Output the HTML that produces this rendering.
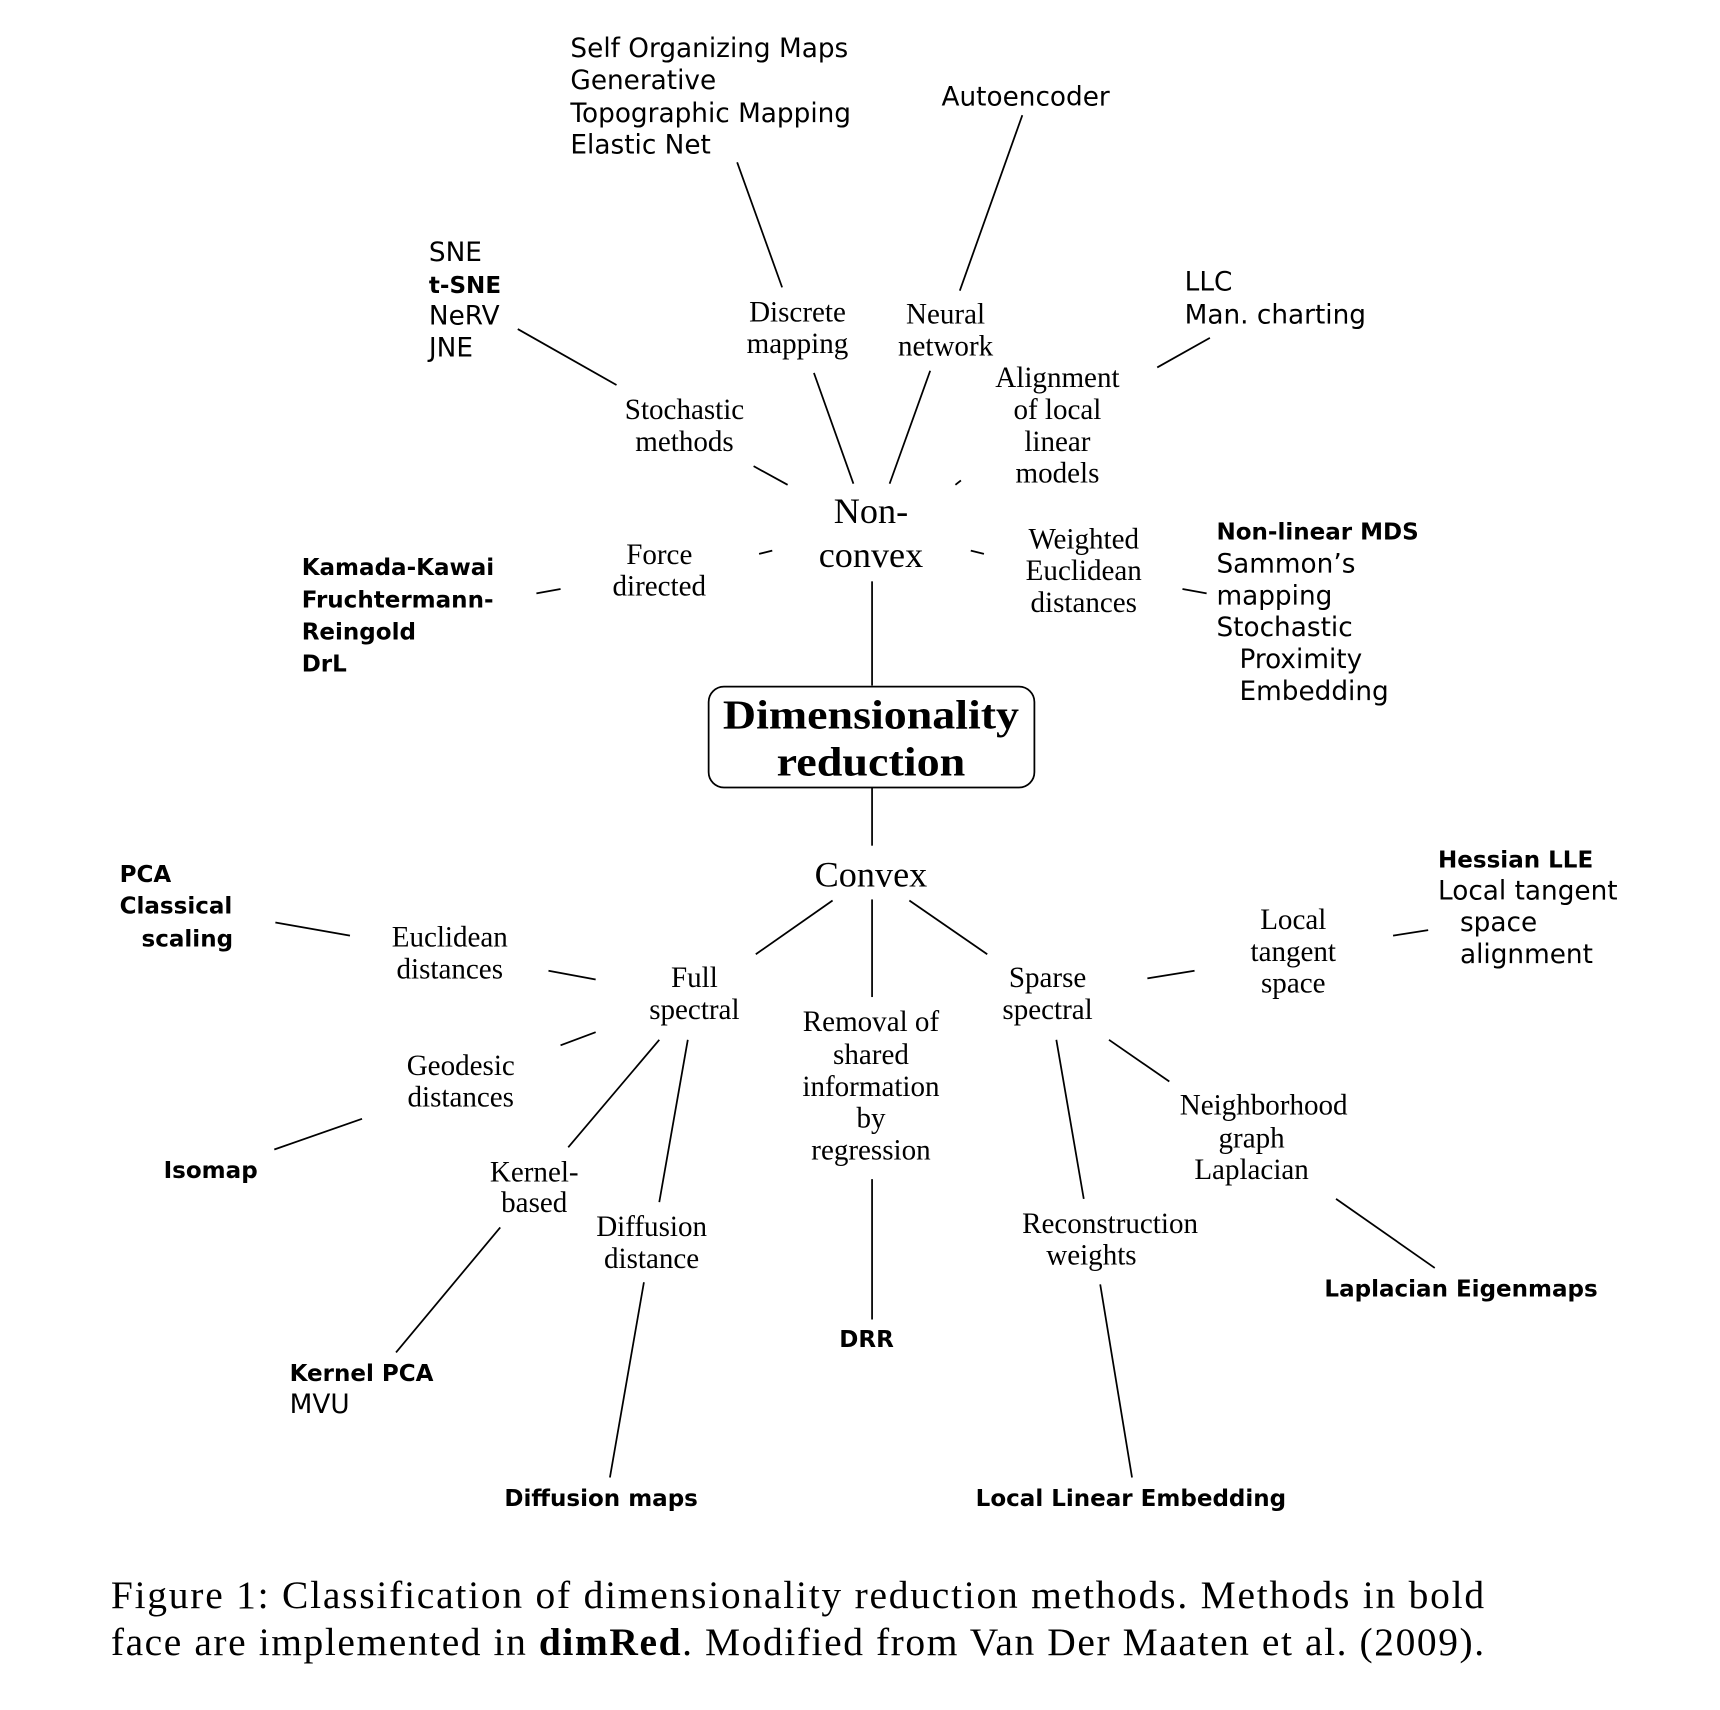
<!DOCTYPE html>
<html><head><meta charset="utf-8"><style>
html,body{margin:0;padding:0;background:#fff;}
svg{display:block;}
.s{font-family:"DejaVu Sans","Liberation Sans",sans-serif;font-size:24px;fill:#000;}
.b{font-weight:bold;font-size:21px;}
.r{font-family:"Liberation Serif",serif;font-size:26.5px;fill:#000;}
.m{text-anchor:middle;}
line{stroke:#000;stroke-width:1.6;}
</style></head><body>
<svg width="1720" height="1710" viewBox="0 0 1568 1559" xmlns="http://www.w3.org/2000/svg">
<g>
<line x1="672" y1="148" x2="713" y2="262"/>
<line x1="932" y1="105" x2="875" y2="265"/>
<line x1="472" y1="300" x2="562" y2="351"/>
<line x1="1103" y1="308" x2="1055" y2="335"/>
<line x1="742" y1="340" x2="778" y2="441"/>
<line x1="848" y1="338" x2="811" y2="441"/>
<line x1="687" y1="425" x2="718" y2="442"/>
<line x1="876" y1="438" x2="871" y2="442"/>
<line x1="692" y1="505" x2="704" y2="502"/>
<line x1="885" y1="502" x2="897" y2="505"/>
<line x1="489" y1="541" x2="511" y2="537"/>
<line x1="1078" y1="537" x2="1100" y2="541"/>
<line x1="795" y1="530" x2="795" y2="625"/>
<line x1="795" y1="718" x2="795" y2="771"/>
<line x1="759" y1="821" x2="689" y2="870"/>
<line x1="795" y1="820" x2="795" y2="909"/>
<line x1="829" y1="821" x2="900" y2="870"/>
<line x1="251" y1="841" x2="319" y2="853"/>
<line x1="500" y1="885" x2="543" y2="893"/>
<line x1="1046" y1="892" x2="1089" y2="885"/>
<line x1="1270" y1="853" x2="1302" y2="848"/>
<line x1="511" y1="953" x2="543" y2="941"/>
<line x1="250" y1="1048" x2="330" y2="1020"/>
<line x1="601" y1="948" x2="518" y2="1046"/>
<line x1="627" y1="948" x2="601" y2="1096"/>
<line x1="963" y1="948" x2="988" y2="1093"/>
<line x1="1011" y1="948" x2="1066" y2="986"/>
<line x1="456" y1="1119" x2="361" y2="1233"/>
<line x1="587" y1="1169" x2="556" y2="1347"/>
<line x1="795" y1="1075" x2="795" y2="1203"/>
<line x1="1003" y1="1171" x2="1032" y2="1347"/>
<line x1="1218" y1="1093" x2="1308" y2="1156"/>
</g>
<rect x="646" y="626" width="297" height="92" rx="14" fill="#fff" stroke="#000" stroke-width="1.6"/>
<text class="r m" font-weight="bold" x="794" y="664" style="font-size:38px" textLength="270" lengthAdjust="spacingAndGlyphs">Dimensionality</text>
<text class="r m" font-weight="bold" x="794" y="707" style="font-size:38px" textLength="172" lengthAdjust="spacingAndGlyphs">reduction</text>

<text class="s" x="520" y="52">Self Organizing Maps</text>
<text class="s" x="520" y="81">Generative</text>
<text class="s" x="520" y="111">Topographic Mapping</text>
<text class="s" x="520" y="140">Elastic Net</text>
<text class="s m" x="935" y="96">Autoencoder</text>
<text class="s" x="391" y="238">SNE</text>
<text class="s b" x="391" y="267">t-SNE</text>
<text class="s" x="391" y="296">NeRV</text>
<text class="s" x="391" y="325">JNE</text>
<text class="s" x="1080" y="265">LLC</text>
<text class="s" x="1080" y="295">Man. charting</text>

<text class="r m" x="727" y="293">Discrete</text>
<text class="r m" x="727" y="322">mapping</text>
<text class="r m" x="862" y="295">Neural</text>
<text class="r m" x="862" y="324">network</text>
<text class="r m" x="964" y="353">Alignment</text>
<text class="r m" x="964" y="382">of local</text>
<text class="r m" x="964" y="411">linear</text>
<text class="r m" x="964" y="440">models</text>
<text class="r m" x="624" y="382">Stochastic</text>
<text class="r m" x="624" y="411">methods</text>
<text class="r m" x="794" y="477" style="font-size:33px">Non-</text>
<text class="r m" x="794" y="517" style="font-size:33px">convex</text>
<text class="r m" x="601" y="514">Force</text>
<text class="r m" x="601" y="543">directed</text>
<text class="r m" x="988" y="500">Weighted</text>
<text class="r m" x="988" y="529">Euclidean</text>
<text class="r m" x="988" y="558">distances</text>

<text class="s b" x="275" y="524">Kamada-Kawai</text>
<text class="s b" x="275" y="554">Fruchtermann-</text>
<text class="s b" x="275" y="583">Reingold</text>
<text class="s b" x="275" y="612">DrL</text>
<text class="s b" x="1109" y="492">Non-linear MDS</text>
<text class="s" x="1109" y="522">Sammon’s</text>
<text class="s" x="1109" y="551">mapping</text>
<text class="s" x="1109" y="580">Stochastic</text>
<text class="s" x="1130" y="609">Proximity</text>
<text class="s" x="1130" y="638">Embedding</text>

<text class="r m" x="794" y="808" style="font-size:33px">Convex</text>
<text class="s b" x="109" y="804">PCA</text>
<text class="s b" x="109" y="833">Classical</text>
<text class="s b" x="129" y="863">scaling</text>
<text class="r m" x="410" y="863">Euclidean</text>
<text class="r m" x="410" y="892">distances</text>
<text class="r m" x="633" y="900">Full</text>
<text class="r m" x="633" y="929">spectral</text>
<text class="r m" x="794" y="940">Removal of</text>
<text class="r m" x="794" y="970">shared</text>
<text class="r m" x="794" y="999">information</text>
<text class="r m" x="794" y="1028">by</text>
<text class="r m" x="794" y="1057">regression</text>
<text class="r m" x="955" y="900">Sparse</text>
<text class="r m" x="955" y="929">spectral</text>
<text class="r m" x="1179" y="847">Local</text>
<text class="r m" x="1179" y="876">tangent</text>
<text class="r m" x="1179" y="905">space</text>
<text class="s b" x="1311" y="791">Hessian LLE</text>
<text class="s" x="1311" y="820">Local tangent</text>
<text class="s" x="1331" y="849">space</text>
<text class="s" x="1331" y="878">alignment</text>
<text class="r m" x="420" y="980">Geodesic</text>
<text class="r m" x="420" y="1009">distances</text>
<text class="s b m" x="192" y="1074">Isomap</text>
<text class="r m" x="487" y="1077">Kernel-</text>
<text class="r m" x="487" y="1105">based</text>
<text class="r m" x="594" y="1127">Diffusion</text>
<text class="r m" x="594" y="1156">distance</text>
<text class="r m" x="1152" y="1016">Neighborhood</text>
<text class="r m" x="1141" y="1046">graph</text>
<text class="r m" x="1141" y="1075">Laplacian</text>
<text class="r m" x="1012" y="1124">Reconstruction</text>
<text class="r m" x="995" y="1153">weights</text>
<text class="s b m" x="1332" y="1182">Laplacian Eigenmaps</text>
<text class="s b" x="264" y="1259">Kernel PCA</text>
<text class="s" x="264" y="1288">MVU</text>
<text class="s b m" x="790" y="1228">DRR</text>
<text class="s b m" x="548" y="1373">Diffusion maps</text>
<text class="s b m" x="1031" y="1373">Local Linear Embedding</text>

<text class="r" x="101" y="1466" style="font-size:36px" textLength="1252" lengthAdjust="spacing">Figure 1:  Classification of dimensionality reduction methods.  Methods in bold</text>
<text class="r" x="101" y="1509" style="font-size:36px" textLength="1252" lengthAdjust="spacing">face are implemented in <tspan font-weight="bold">dimRed</tspan>.  Modified from Van Der Maaten et al. (2009).</text>
</svg>
</body></html>
